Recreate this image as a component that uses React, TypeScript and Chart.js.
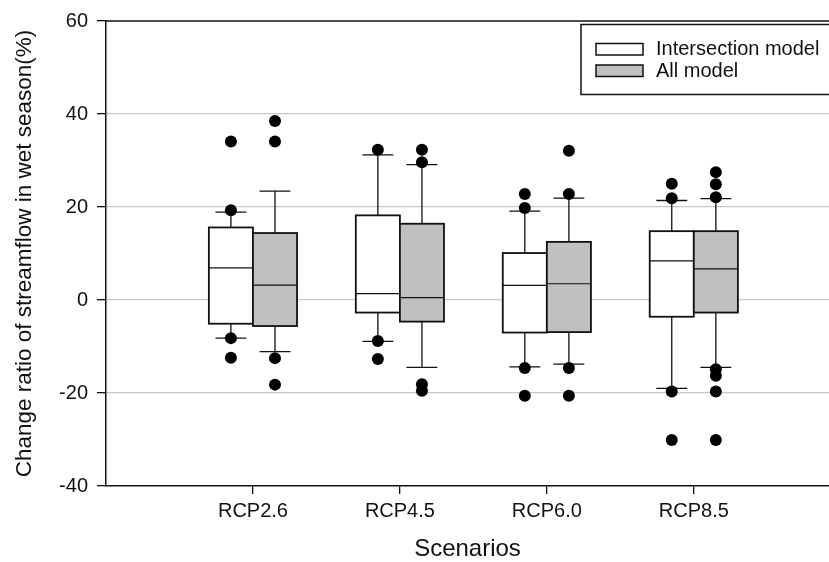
import React, { useEffect, useRef } from "react";
import { Chart, registerables } from "chart.js";

Chart.register(...registerables);

// ---- data ----
const categories = ["RCP2.6", "RCP4.5", "RCP6.0", "RCP8.5"];
const seriesNames = ["Intersection model", "All model"];

const interLow = [-8.2, -8.9, -14.4, -19.0];
const interQ1 = [-5.1, -2.7, -7.0, -3.6];
const interMed = [6.9, 1.35, 3.15, 8.4];
const interQ3 = [15.6, 18.2, 10.1, 14.8];
const interHigh = [18.9, 31.2, 19.1, 21.4];
const interOutliers = [
  [34.1, 19.3, -8.2, -12.4],
  [32.3, -8.8, -12.7],
  [22.8, 19.8, -14.6, -20.6],
  [25.0, 21.9, -19.7, -30.1],
];

const allLow = [-11.1, -14.5, -13.8, -14.5];
const allQ1 = [-5.6, -4.65, -6.9, -2.7];
const allMed = [3.2, 0.5, 3.5, 6.7];
const allQ3 = [14.4, 16.4, 12.5, 14.8];
const allHigh = [23.4, 29.1, 21.9, 21.8];
const allOutliers = [
  [38.5, 34.1, -12.5, -18.2],
  [32.3, 29.6, -18.1, -19.5],
  [32.1, 22.8, -14.6, -20.6],
  [27.5, 24.9, 22.1, -14.9, -16.3, -19.7, -30.1],
];

const yTicks = [-40, -20, 0, 20, 40, 60];
const yTitle = "Change ratio of streamflow in wet season(%)";
const xTitle = "Scenarios";

// ---- styling ----
const FONT = "'Liberation Sans', Arial, Helvetica, sans-serif";
const INK = "#111";
const GRAY_FILL = "#c0c0c0";
const BOX_W = 0.3; // in category units
const CAP_W = 0.21;

const groups = [
  { name: seriesNames[0], fill: "#ffffff", off: -BOX_W / 2, low: interLow, q1: interQ1, med: interMed, q3: interQ3, high: interHigh, out: interOutliers },
  { name: seriesNames[1], fill: GRAY_FILL, off: BOX_W / 2, low: allLow, q1: allQ1, med: allMed, q3: allQ3, high: allHigh, out: allOutliers },
];

const boxPlugin = {
  id: "boxes",
  beforeDatasetsDraw(chart: any) {
    const { ctx, scales } = chart;
    const xs = scales.x;
    const ys = scales.y;
    ctx.save();
    groups.forEach((g) => {
      categories.forEach((_, i) => {
        const c = i + 1 + g.off;
        const xl = xs.getPixelForValue(c - BOX_W / 2);
        const xr = xs.getPixelForValue(c + BOX_W / 2);
        const xc = xs.getPixelForValue(c);
        const cl = xs.getPixelForValue(c - CAP_W / 2);
        const cr = xs.getPixelForValue(c + CAP_W / 2);
        const yq1 = ys.getPixelForValue(g.q1[i]);
        const yq3 = ys.getPixelForValue(g.q3[i]);
        const ym = ys.getPixelForValue(g.med[i]);
        const yl = ys.getPixelForValue(g.low[i]);
        const yh = ys.getPixelForValue(g.high[i]);
        // whiskers
        ctx.strokeStyle = INK;
        ctx.lineWidth = 1.3;
        ctx.beginPath();
        ctx.moveTo(xc, yq3);
        ctx.lineTo(xc, yh);
        ctx.moveTo(cl, yh);
        ctx.lineTo(cr, yh);
        ctx.moveTo(xc, yq1);
        ctx.lineTo(xc, yl);
        ctx.moveTo(cl, yl);
        ctx.lineTo(cr, yl);
        ctx.stroke();
        // box
        ctx.fillStyle = g.fill;
        ctx.fillRect(xl, yq3, xr - xl, yq1 - yq3);
        ctx.lineWidth = 1.8;
        ctx.strokeRect(xl, yq3, xr - xl, yq1 - yq3);
        // median
        ctx.lineWidth = 1.2;
        ctx.beginPath();
        ctx.moveTo(xl, ym);
        ctx.lineTo(xr, ym);
        ctx.stroke();
      });
    });
    ctx.restore();
  },
  afterDraw(chart: any) {
    const { ctx, chartArea } = chart;
    ctx.save();
    // top frame line
    ctx.strokeStyle = INK;
    ctx.lineWidth = 1.5;
    ctx.beginPath();
    ctx.moveTo(chartArea.left, chartArea.top);
    ctx.lineTo(chart.width + 2, chartArea.top);
    ctx.stroke();
    // legend box
    const lx = chartArea.left + 475;
    const ly = chartArea.top + 3.5;
    const lh = 70;
    ctx.fillStyle = "#fff";
    ctx.fillRect(lx, ly, 300, lh);
    ctx.strokeRect(lx, ly, 300, lh);
    groups.forEach((g, k) => {
      const sy = ly + 19 + k * 21.5;
      ctx.fillStyle = g.fill;
      ctx.fillRect(lx + 15, sy, 47, 11.5);
      ctx.lineWidth = 1.5;
      ctx.strokeRect(lx + 15, sy, 47, 11.5);
      ctx.fillStyle = INK;
      ctx.font = `20px ${FONT}`;
      ctx.textBaseline = "middle";
      ctx.textAlign = "left";
      ctx.fillText(g.name, lx + 75, sy + 6);
    });
    ctx.restore();
  },
};

export default function App() {
  const ref = useRef<HTMLCanvasElement | null>(null);
  useEffect(() => {
    if (!ref.current) return;
    const datasets = groups.map((g) => ({
      type: "scatter" as const,
      label: g.name,
      data: g.out.flatMap((vals, i) => vals.map((v) => ({ x: i + 1 + g.off, y: v }))),
      backgroundColor: "#000",
      borderColor: "#000",
      pointRadius: 6,
      pointHoverRadius: 6,
      borderWidth: 0,
    }));
    const chart = new Chart(ref.current, {
      type: "scatter",
      data: { datasets },
      plugins: [boxPlugin],
      options: {
        animation: false,
        responsive: true,
        maintainAspectRatio: false,
        layout: { autoPadding: false, padding: { top: 19, right: 0, left: 0, bottom: 0 } },
        plugins: { legend: { display: false }, tooltip: { enabled: false } },
        scales: {
          x: {
            type: "linear",
            min: 0,
            max: 4.92,
            afterBuildTicks: (s: any) => {
              s.ticks = categories.map((_, i) => ({ value: i + 1 }));
            },
            afterFit: (s: any) => {
              s.height = 76;
            },
            ticks: {
              autoSkip: false,
              maxRotation: 0,
              color: INK,
              font: { family: FONT, size: 20 },
              padding: 5,
              callback: (v: any) => categories[Number(v) - 1] ?? "",
            },
            grid: { drawOnChartArea: false, tickLength: 8, tickColor: INK, lineWidth: 1.3 },
            border: { color: INK, width: 1.5 },
            title: { display: true, text: xTitle, color: INK, font: { family: FONT, size: 24 }, padding: { top: 0, bottom: -2 } },
          },
          y: {
            min: -40,
            max: 60,
            afterBuildTicks: (s: any) => {
              s.ticks = yTicks.map((v) => ({ value: v }));
            },
            afterFit: (s: any) => {
              s.width = 106;
            },
            ticks: { color: INK, font: { family: FONT, size: 20 }, padding: 9 },
            grid: {
              color: (c: any) => (c.tick && (c.tick.value === 60 || c.tick.value === -40) ? "rgba(0,0,0,0)" : "#c8c8c8"),
              tickColor: INK,
              tickLength: 9,
              lineWidth: 1.3,
            },
            border: { color: INK, width: 1.5 },
            title: { display: true, text: yTitle, color: INK, font: { family: FONT, size: 22.5 }, padding: { top: 11, bottom: 2 } },
          },
        },
      },
    });
    return () => chart.destroy();
  }, []);
  return (
    <div style={{ position: "absolute", left: 0, top: 0, width: 829, height: 562 }}>
      <canvas ref={ref} />
    </div>
  );
}
